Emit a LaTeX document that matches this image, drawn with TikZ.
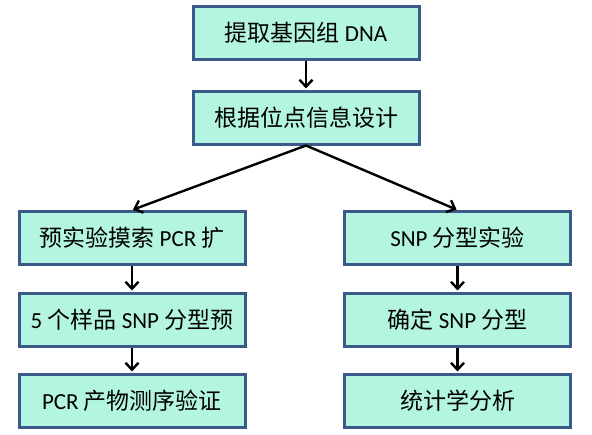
\documentclass[tikz,border=0pt]{standalone}
\usepackage{fontspec}
\setmainfont{Carlito}
\newfontfamily\cjk{Noto Sans CJK SC}
\usetikzlibrary{arrows.meta}
\definecolor{boxfill}{HTML}{B3F5E1}
\definecolor{boxdraw}{HTML}{3A5A8A}
\begin{document}
\begin{tikzpicture}[x=1pt,y=-1pt,
  stepbox/.style={draw=boxdraw,fill=boxfill,line width=3pt,minimum width=226pt,minimum height=53pt,inner sep=0pt,font=\fontsize{23}{26}\selectfont},
  flow/.style={line width=2.4pt,-{Straight Barb[length=7pt,width=13pt,line width=2.4pt]},shorten >=1pt}]
\useasboundingbox (0,0) rectangle (592,434);
\node[stepbox] (a) at (306,33) {{\cjk 提取基因组} DNA};
\node[stepbox] (b) at (306,117.5) {\cjk 根据位点信息设计};
\node[stepbox] (l1) at (132,238) {{\cjk 预实验摸索} PCR {\cjk 扩}};
\node[stepbox] (l2) at (132,319.5) {5 {\cjk 个样品} SNP {\cjk 分型预}};
\node[stepbox] (l3) at (132,400.5) {PCR {\cjk 产物测序验证}};
\node[stepbox] (r1) at (457.5,238) {SNP {\cjk 分型实验}};
\node[stepbox] (r2) at (457.5,319.5) {{\cjk 确定} SNP {\cjk 分型}};
\node[stepbox] (r3) at (457.5,400.5) {\cjk 统计学分析};
\draw[flow] (a) -- (b);
\draw[flow] (b.south) -- (l1.north);
\draw[flow] (b.south) -- (r1.north);
\draw[flow] (l1) -- (l2);
\draw[flow] (l2) -- (l3);
\draw[flow] (r1) -- (r2);
\draw[flow] (r2) -- (r3);
\end{tikzpicture}
\end{document}
